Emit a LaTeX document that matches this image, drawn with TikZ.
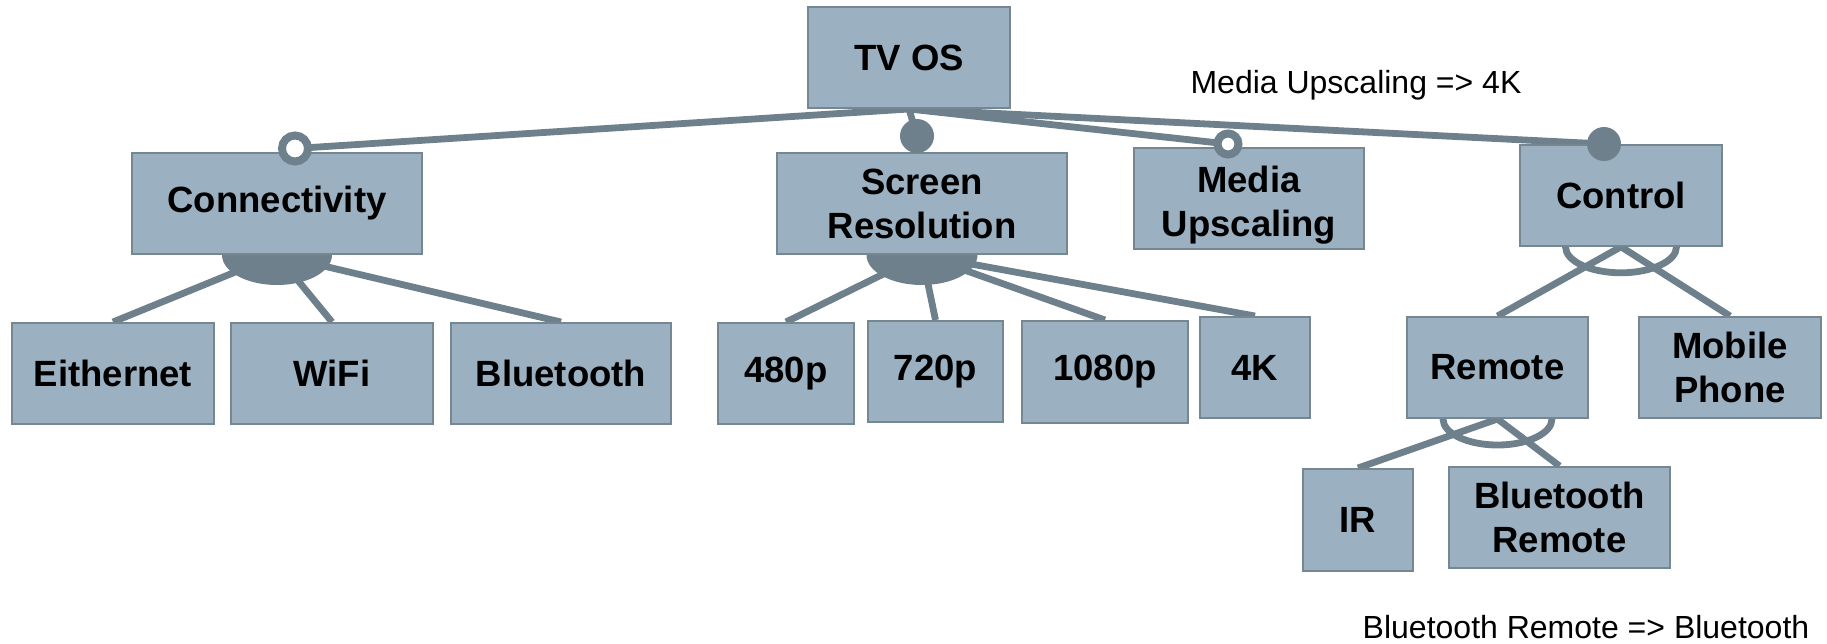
\documentclass[tikz,border=0pt]{standalone}
\usepackage{fontspec}
\setmainfont{Liberation Sans}
\usetikzlibrary{backgrounds}
\definecolor{boxfill}{RGB}{155,176,192}
\definecolor{boxline}{RGB}{118,135,146}
\definecolor{linkcol}{RGB}{110,128,139}
\tikzset{
  fbox/.style={draw=boxline, line width=1pt, fill=boxfill, minimum height=50.5pt,
    align=center, inner sep=0pt, font=\fontsize{18.25}{22}\selectfont\bfseries},
  link/.style={draw=linkcol, line width=3.4pt},
  optmark/.style={circle, draw=linkcol, fill=white, line width=4pt, inner sep=0pt},
  manmark/.style={circle, fill=linkcol, inner sep=0pt, minimum size=17pt},
  note/.style={font=\fontsize{16}{19}\selectfont, anchor=base, inner sep=0pt}
}
\begin{document}
\begin{tikzpicture}[x=0.5pt,y=-0.5pt]
\useasboundingbox (0,0) rectangle (1827,643);
% feature boxes
\node[fbox, minimum width=101pt] (tv) at (909,57.5) {TV OS};
\node[fbox, minimum width=145pt] (conn) at (277,203.5) {Connectivity};
\node[fbox, minimum width=145pt] (scr) at (922,203.5) {Screen\\Resolution};
\node[fbox, minimum width=115pt, text height=41.5pt] (media) at (1249,198.5) {Media\\Upscaling};
\node[fbox, minimum width=101pt] (ctrl) at (1621,195.3) {Control};
\node[fbox, minimum width=101pt] (eth) at (113,373.5) {Eithernet};
\node[fbox, minimum width=101pt] (wifi) at (332,373.5) {WiFi};
\node[fbox, minimum width=110pt] (bt) at (561,373.5) {Bluetooth};
\node[fbox, minimum width=68pt] (p480) at (786,373.5) {480p};
\node[fbox, minimum width=67.5pt] (p720) at (935.5,371.5) {720p};
\node[fbox, minimum width=83pt, minimum height=51pt] (p1080) at (1105,372) {1080p};
\node[fbox, minimum width=55pt] (k4) at (1255,367.5) {4K};
\node[fbox, minimum width=90.5pt] (remote) at (1497.5,367.5) {Remote};
\node[fbox, minimum width=91pt] (mobile) at (1730,367.5) {Mobile\\Phone};
\node[fbox, minimum width=55pt, minimum height=51pt] (ir) at (1358,520) {IR};
\node[fbox, minimum width=110.5pt] (btr) at (1559.5,517.5) {Bluetooth\\Remote};
% markers
\node[optmark, minimum size=13pt] (mConn) at (295,148.5) {};
\node[manmark] (mScr) at (917,136) {};
\node[optmark, minimum size=10.5pt] (mMedia) at (1228,144) {};
\node[manmark] (mCtrl) at (1604,144) {};
% constraints
\node[note] (c1) at (1356,93) {Media Upscaling => 4K};
\node[note] (c2) at (1586,638) {Bluetooth Remote => Bluetooth};
\begin{scope}[on background layer]
  \draw[link] (tv.south) -- (mConn.center);
  \draw[link] (tv.south) -- (mScr.center);
  \draw[link] (tv.south) -- (mMedia.center);
  \draw[link] (tv.south) -- (mCtrl.center);
  % or groups
  \fill[linkcol] (conn.south) ellipse [x radius=27.5pt, y radius=15pt];
  \draw[link] (conn.south) -- (eth.north);
  \draw[link] (conn.south) -- (wifi.north);
  \draw[link] (conn.south) -- (bt.north);
  \fill[linkcol] (scr.south) ellipse [x radius=27.75pt, y radius=15pt];
  \draw[link] (scr.south) -- (p480.north);
  \draw[link] (scr.south) -- (p720.north);
  \draw[link] (scr.south) -- (p1080.north);
  \draw[link] (scr.south) -- (k4.north);
  % alternative groups
  \draw[link] (ctrl.south) ellipse [x radius=27.75pt, y radius=13pt];
  \draw[link] (ctrl.south) -- (remote.north);
  \draw[link] (ctrl.south) -- (mobile.north);
  \draw[link] (remote.south) ellipse [x radius=27.25pt, y radius=13pt];
  \draw[link] (remote.south) -- (ir.north);
  \draw[link] (remote.south) -- (btr.north);
\end{scope}
\end{tikzpicture}
\end{document}
